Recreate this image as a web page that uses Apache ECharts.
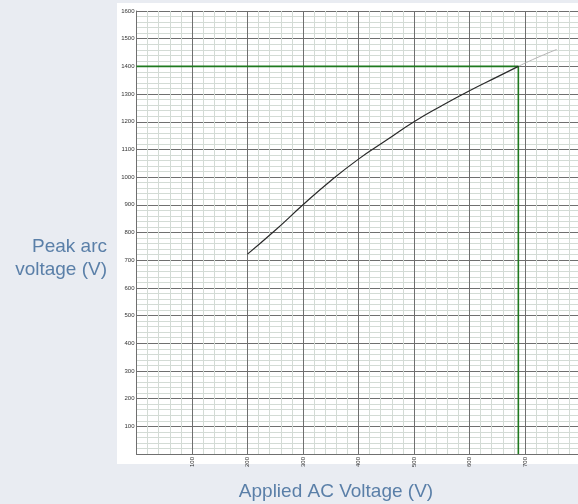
<!DOCTYPE html>
<html>
<head>
<meta charset="utf-8">
<script src="https://cdn.jsdelivr.net/npm/echarts@6/dist/echarts.min.js"></script>
<style>
html,body{margin:0;padding:0;background:#e9ecf2;overflow:hidden;width:578px;height:504px;}
#c{width:600px;height:504px;}
</style>
</head>
<body>
<div id="c"></div>
<script>
// Data
var curveX = [200, 250, 300, 350, 400, 450, 500, 550, 600, 650, 688];
var curveY = [722, 808, 900, 987, 1065, 1133, 1200, 1258, 1312, 1362, 1400];
var extX = [688, 720, 757];
var extY = [1400, 1430, 1461];
var refX = [0, 688, 688];
var refY = [1400, 1400, 0];
var xTicks = [100, 200, 300, 400, 500, 600, 700, 800];
var yTicks = [100, 200, 300, 400, 500, 600, 700, 800, 900, 1000, 1100, 1200, 1300, 1400, 1500, 1600];

function zip(a, b) { return a.map(function (v, i) { return [v, b[i]]; }); }

var chart = echarts.init(document.getElementById('c'));
var axisCommon = {
  type: 'value',
  interval: 100,
  minorTick: { show: false, splitNumber: 5 },
  minorSplitLine: { show: true, lineStyle: { color: '#d3dbd5', width: 1 } },
  splitLine: { show: true, lineStyle: { color: '#6f6f6f', width: 1 } },
  axisLine: { show: true, lineStyle: { color: '#6f6f6f', width: 1 } },
  axisTick: { show: false }
};
var titleFont = '19px Arial, "Liberation Sans", sans-serif';
chart.setOption({
  animation: false,
  backgroundColor: '#e9ecf2',
  graphic: [
    { type: 'rect', z: -100, shape: { x: 117, y: 3, width: 490, height: 461 }, style: { fill: '#ffffff' } },
    { type: 'text', x: 107, y: 235, style: { text: 'Peak arc\nvoltage (V)', fill: '#5a7fa8', font: titleFont, align: 'right', lineHeight: 23 } },
    { type: 'text', x: 336, y: 492, style: { text: 'Applied AC Voltage (V)', fill: '#5a7fa8', font: titleFont, align: 'center', verticalAlign: 'middle' } }
  ],
  grid: { left: 136.5, top: 11, width: 444, height: 443, containLabel: false },
  xAxis: Object.assign({}, axisCommon, {
    min: 0, max: 800,
    axisLabel: {
      rotate: 90, fontSize: 6, color: '#333', margin: 3,
      fontFamily: 'Arial, "Liberation Sans", sans-serif',
      formatter: function (v) { return xTicks.indexOf(v) >= 0 ? String(v) : ''; }
    }
  }),
  yAxis: Object.assign({}, axisCommon, {
    min: 0, max: 1600,
    axisLabel: {
      fontSize: 6, color: '#333', margin: 2,
      fontFamily: 'Arial, "Liberation Sans", sans-serif',
      formatter: function (v) { return yTicks.indexOf(v) >= 0 ? String(v) : ''; }
    }
  }),
  series: [
    { type: 'line', data: zip(refX, refY), symbol: 'none', lineStyle: { color: '#1f7a1f', width: 1.6 }, z: 3 },
    { type: 'line', data: zip(extX, extY), symbol: 'none', smooth: true, lineStyle: { color: '#b5b5b5', width: 1 }, z: 2 },
    { type: 'line', data: zip(curveX, curveY), symbol: 'none', smooth: true, lineStyle: { color: '#2a2a2a', width: 1.2 }, z: 4 }
  ]
});
</script>
</body>
</html>
